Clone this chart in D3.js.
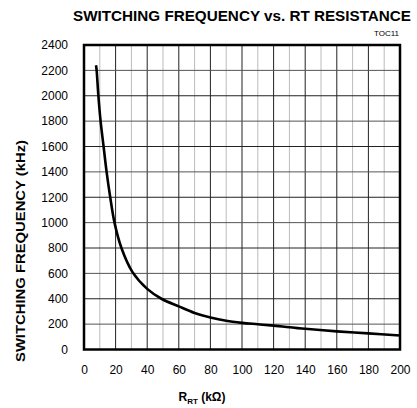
<!DOCTYPE html>
<html><head><meta charset="utf-8">
<script src="https://cdn.jsdelivr.net/npm/d3@7/dist/d3.min.js"></script>
<style>body{margin:0;background:#fff}svg{display:block}text{font-family:"Liberation Sans",Arial,sans-serif}</style>
</head><body>
<svg id="c" width="417" height="408"></svg>
<script>
const titleText = "SWITCHING FREQUENCY vs. RT RESISTANCE";
const tocLabel = "TOC11";
const yTitle = "SWITCHING FREQUENCY  (kHz)";
const xTicks = [0,20,40,60,80,100,120,140,160,180,200];
const yTicks = [0,200,400,600,800,1000,1200,1400,1600,1800,2000,2200,2400];
const resistance = [7.6, 8, 9.1, 10.5, 12.4, 14.3, 16.6, 19.3, 23.7, 30.7, 40, 49, 60, 70, 80, 90, 100, 110, 120, 140, 160, 180, 200];
const frequency  = [2240, 2200, 2000, 1800, 1600, 1400, 1200, 1000, 800, 610, 478, 400, 340, 288, 252, 226, 210, 199, 188, 163, 143, 127, 110];

const svg = d3.select("#c");
const L = 84, R = 400, T = 45, B = 349.5;
const x = d3.scaleLinear().domain([0,200]).range([L,R]);
const y = d3.scaleLinear().domain([0,2400]).range([B,T]);

// grid
const g = svg.append("g");
g.selectAll(".vg").data(d3.range(10,200,10)).join("line")
  .attr("x1", d=>x(d)).attr("x2", d=>x(d)).attr("y1", T).attr("y2", B)
  .attr("stroke", d => d%20===0 ? "#222" : "#bbb").attr("stroke-width", 1);
g.selectAll(".hg").data(d3.range(200,2400,200)).join("line")
  .attr("y1", d=>y(d)).attr("y2", d=>y(d)).attr("x1", L).attr("x2", R)
  .attr("stroke", (d,i) => i%2===0 ? "#555" : "#222").attr("stroke-width", 1);

// curve
const line = d3.line().x((d,i)=>x(resistance[i])).y(d=>y(d)).curve(d3.curveCatmullRom.alpha(0.5));
svg.append("path").attr("d", line(frequency)).attr("fill","none")
  .attr("stroke","#000").attr("stroke-width",2.6).attr("stroke-linejoin","round");

// frame
svg.append("rect").attr("x",L).attr("y",T).attr("width",R-L).attr("height",B-T)
  .attr("fill","none").attr("stroke","#000").attr("stroke-width",2.5);

// axes labels
const yAxis = d3.axisLeft(y).tickValues(yTicks).tickSize(0).tickPadding(16).tickFormat(d3.format("d"));
const ya = svg.append("g").attr("transform",`translate(${L},0)`).call(yAxis);
ya.select(".domain").remove();
ya.selectAll("text").attr("font-size",12).attr("fill","#000").attr("font-family","Liberation Sans, Arial, sans-serif");

const xAxis = d3.axisBottom(x).tickValues(xTicks).tickSize(0).tickPadding(16).tickFormat(d3.format("d"));
const xa = svg.append("g").attr("transform",`translate(0,${B})`).call(xAxis);
xa.select(".domain").remove();
xa.selectAll("text").attr("font-size",12).attr("fill","#000").attr("font-family","Liberation Sans, Arial, sans-serif");

// titles
svg.append("text").attr("x",242).attr("y",21).attr("text-anchor","middle")
  .attr("font-size",15).attr("font-weight","bold").attr("textLength",338).attr("lengthAdjust","spacingAndGlyphs")
  .text(titleText);
svg.append("text").attr("x",399).attr("y",36).attr("text-anchor","end").attr("font-size",8).text(tocLabel);

svg.append("text").attr("transform","translate(25,251) rotate(-90)").attr("text-anchor","middle")
  .attr("font-size",12).attr("font-weight","bold").attr("textLength",222).attr("lengthAdjust","spacingAndGlyphs")
  .text(yTitle);

const xt = svg.append("text").attr("x",202).attr("y",401).attr("text-anchor","middle")
  .attr("font-size",12).attr("font-weight","bold");
xt.append("tspan").text("R");
xt.append("tspan").attr("font-size",8).attr("dy",3).text("RT");
xt.append("tspan").attr("dy",-3).text(" (kΩ)");
</script>
</body></html>
